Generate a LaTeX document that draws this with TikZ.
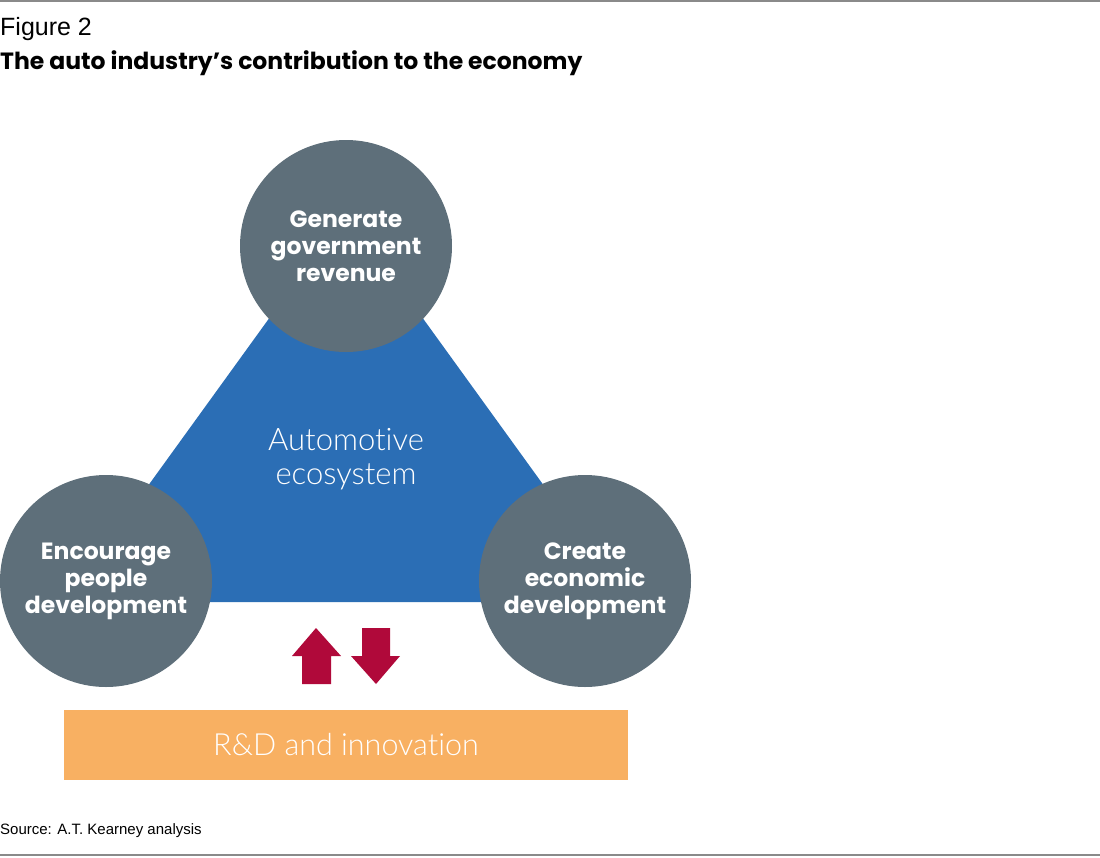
\documentclass[tikz,border=0pt]{standalone}
\usepackage{fontspec}
\setmainfont{Liberation Sans}
\newfontfamily\lightfont{Lato Light}[RawFeature=-liga]
\newfontfamily\heavyfont{Poppins Bold}
\definecolor{ecoblue}{HTML}{2B6EB5}
\definecolor{circgray}{HTML}{5E6F7A}
\definecolor{arrred}{HTML}{B0093A}
\definecolor{rdorange}{HTML}{F8B062}
\definecolor{rulegray}{HTML}{8A8A8A}
\tikzset{
  circ/.style={circle, fill=circgray, minimum size=212pt, inner sep=0pt, text=white,
    align=center, font=\fontsize{23.5}{27}\selectfont\heavyfont},
  rule/.style={draw=rulegray, line width=1.5pt},
  arrowshape/.style={fill=arrred},
}
\begin{document}
\begin{tikzpicture}[x=1pt,y=-1pt]
\useasboundingbox (0,0) rectangle (1100,857);
\coordinate (tl) at (0,1); \coordinate (tr) at (1100,1);
\coordinate (bl) at (0,855); \coordinate (br) at (1100,855);
\draw[rule] (tl) -- (tr);
\draw[rule] (bl) -- (br);
\node[anchor=base west, inner sep=0pt, font=\fontsize{25}{28}\selectfont] (fig) at (0,35) {Figure 2};
\node[anchor=base west, inner sep=0pt, font=\fontsize{23.5}{27}\selectfont\heavyfont] (title) at (0,69) {The auto industry’s contribution to the economy};
% triangle
\coordinate (va) at (346,212);
\coordinate (vl) at (64,602);
\coordinate (vr) at (628,602);
\fill[ecoblue] (vl) -- (va) -- (vr) -- cycle;
\node[text=white, align=center, font=\fontsize{31}{34}\selectfont\lightfont] (eco) at (346,459) {Automotive\\ecosystem};
% circles
\node[circ] (gov) at (346,246) {Generate\\government\\revenue};
\node[circ] (ppl) at (106,581) {Encourage\\people\\development};
\node[circ] (econ) at (585,581) {Create\\economic\\development};
% arrows
\fill[arrowshape] (316,628) -- (341,656) -- (331,656) -- (331,684) -- (302,684) -- (302,656) -- (292,656) -- cycle;
\fill[arrowshape] (376,684) -- (400,656) -- (390,656) -- (390,628) -- (362,628) -- (362,656) -- (351,656) -- cycle;
% R&D
\node[fill=rdorange, minimum width=564pt, minimum height=70pt, inner sep=0pt, text=white,
  font=\fontsize{30.5}{34}\selectfont\lightfont] (rd) at (346,745) {R\&D and innovation};
\node[anchor=base west, inner sep=0pt, font=\fontsize{15}{17}\selectfont] (src) at (0,834) {Source: A.T. Kearney analysis};
\end{tikzpicture}
\end{document}
